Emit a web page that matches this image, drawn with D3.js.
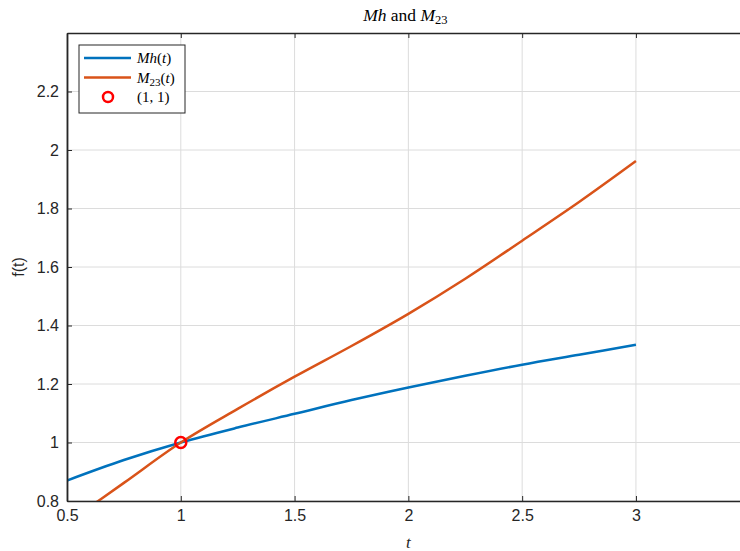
<!DOCTYPE html>
<meta charset="utf-8">
<script src="https://d3js.org/d3.v7.min.js"></script>
<style>
  body { margin: 0; background: #fff; }
</style>
<div id="my_dataviz"></div>
<script>

// values
var tValues  = [0.5, 0.75, 1, 1.25, 1.5, 1.75, 2, 2.25, 2.5, 2.75, 3];
var mhValues = [0.870, 0.940, 1.000, 1.051, 1.098, 1.145, 1.188, 1.228, 1.266, 1.300, 1.334];
var m23Values = [0.725, 0.862, 1.000, 1.115, 1.225, 1.330, 1.440, 1.560, 1.690, 1.822, 1.962];
var xTicks = [0.5, 1, 1.5, 2, 2.5, 3];
var yTicks = [0.8, 1, 1.2, 1.4, 1.6, 1.8, 2, 2.2];
var point = {t: 1, v: 1};

var W = 740, H = 551;
var margin = {top: 33, right: -2, bottom: 50, left: 67};
var width = W - margin.left - margin.right,
    height = H - margin.top - margin.bottom;

var axisColor = "#262626";
var blue = "#0072BD", orange = "#D95319";

var svg = d3.select("#my_dataviz")
  .append("svg")
    .attr("width", W)
    .attr("height", H);

var g = svg.append("g")
  .attr("transform", "translate(" + margin.left + "," + margin.top + ")");

var x = d3.scaleLinear().domain([0.5, 3.466]).range([0, width]);
var y = d3.scaleLinear().domain([0.8, 2.4]).range([height, 0]);

g.append("clipPath").attr("id", "clip")
  .append("rect").attr("width", width).attr("height", height);

// grid
g.selectAll(".vgrid").data(xTicks).enter().append("line")
  .attr("x1", d => x(d)).attr("x2", d => x(d))
  .attr("y1", 0).attr("y2", height)
  .attr("stroke", "#dcdcdc").attr("stroke-width", 1);
g.selectAll(".hgrid").data(yTicks).enter().append("line")
  .attr("x1", 0).attr("x2", width)
  .attr("y1", d => y(d)).attr("y2", d => y(d))
  .attr("stroke", "#dcdcdc").attr("stroke-width", 1);

// curves
var line = d3.line().curve(d3.curveCatmullRom);
var mhPts = tValues.map((t, i) => [x(t), y(mhValues[i])]);
var m23Pts = tValues.map((t, i) => [x(t), y(m23Values[i])]);

var curves = g.append("g").attr("clip-path", "url(#clip)");
curves.append("path").attr("d", line(mhPts))
  .attr("fill", "none").attr("stroke", blue).attr("stroke-width", 2.5);
curves.append("path").attr("d", line(m23Pts))
  .attr("fill", "none").attr("stroke", orange).attr("stroke-width", 2.5);

g.append("circle")
  .attr("cx", x(point.t)).attr("cy", y(point.v)).attr("r", 5.5)
  .attr("fill", "none").attr("stroke", "#ff0000").attr("stroke-width", 2.5);

// axes
var xAxis = d3.axisBottom(x).tickValues(xTicks).tickSizeInner(-5).tickSizeOuter(0)
  .tickPadding(9).tickFormat(d3.format("~g"));
var yAxis = d3.axisLeft(y).tickValues(yTicks).tickSizeInner(-5).tickSizeOuter(0)
  .tickPadding(8).tickFormat(d3.format("~g"));
var xTop = d3.axisTop(x).tickValues(xTicks).tickSizeInner(-5).tickSizeOuter(0)
  .tickFormat("");

var gx = g.append("g").attr("transform", "translate(0," + height + ")").call(xAxis);
var gy = g.append("g").call(yAxis);
var gt = g.append("g").call(xTop);

[gx, gy, gt].forEach(function(a) {
  a.select(".domain").attr("stroke", axisColor).attr("stroke-width", 1.3);
  a.selectAll(".tick line").attr("stroke", axisColor).attr("stroke-width", 1);
  a.selectAll(".tick text")
    .attr("fill", axisColor)
    .style("font-family", "'Liberation Sans', Arial, sans-serif")
    .style("font-size", "16px");
});
gy.select(".domain").attr("stroke-width", 1.8);

// title
var title = svg.append("text")
  .attr("x", margin.left + x(2.0) - 3).attr("y", 21)
  .attr("text-anchor", "middle")
  .style("font-family", "'Liberation Serif', 'Times New Roman', serif")
  .style("font-size", "17.5px")
  .attr("fill", "#000");
title.append("tspan").style("font-style", "italic").text("Mh");
title.append("tspan").text(" and ");
title.append("tspan").style("font-style", "italic").text("M");
title.append("tspan").attr("dy", 3).style("font-size", "12.5px").text("23");

// axis labels
svg.append("text")
  .attr("x", margin.left + x(2)).attr("y", 548)
  .attr("text-anchor", "middle")
  .style("font-family", "'Liberation Serif', serif")
  .style("font-style", "italic")
  .style("font-size", "17px")
  .attr("fill", axisColor)
  .text("t");

svg.append("text")
  .attr("transform", "translate(24," + (margin.top + height / 2) + ") rotate(-90)")
  .attr("text-anchor", "middle")
  .style("font-family", "'Liberation Sans', Arial, sans-serif")
  .style("font-size", "16px")
  .attr("fill", axisColor)
  .text("f(t)");

// legend
var legend = svg.append("g").attr("transform", "translate(79,45)");
legend.append("rect")
  .attr("width", 106).attr("height", 68)
  .attr("fill", "#fff").attr("stroke", axisColor).attr("stroke-width", 1);

var legendItems = [
  {name: "Mh", sub: "", arg: "(t)", color: blue, kind: "line"},
  {name: "M", sub: "23", arg: "(t)", color: orange, kind: "line"},
  {name: "", sub: "", arg: "(1, 1)", color: "#ff0000", kind: "circle"}
];

legendItems.forEach(function(d, i) {
  var cy = 13 + i * 19.5;
  if (d.kind === "line") {
    legend.append("line")
      .attr("x1", 5).attr("x2", 52).attr("y1", cy).attr("y2", cy)
      .attr("stroke", d.color).attr("stroke-width", 2.5);
  } else {
    legend.append("circle")
      .attr("cx", 29).attr("cy", cy).attr("r", 5)
      .attr("fill", "none").attr("stroke", d.color).attr("stroke-width", 2.5);
  }
  var txt = legend.append("text")
    .attr("x", 58).attr("y", cy + 5)
    .style("font-family", "'Liberation Serif', 'Times New Roman', serif")
    .style("font-size", "15px")
    .attr("fill", "#000");
  if (d.name) txt.append("tspan").style("font-style", "italic").text(d.name);
  if (d.sub) txt.append("tspan").attr("dy", 3).style("font-size", "11px").text(d.sub);
  if (d.kind === "line") {
    var a = txt.append("tspan").attr("dy", d.sub ? -3 : 0);
    a.append("tspan").text("(");
    a.append("tspan").style("font-style", "italic").text("t");
    a.append("tspan").text(")");
  } else {
    txt.append("tspan").text(d.arg);
  }
});

</script>
